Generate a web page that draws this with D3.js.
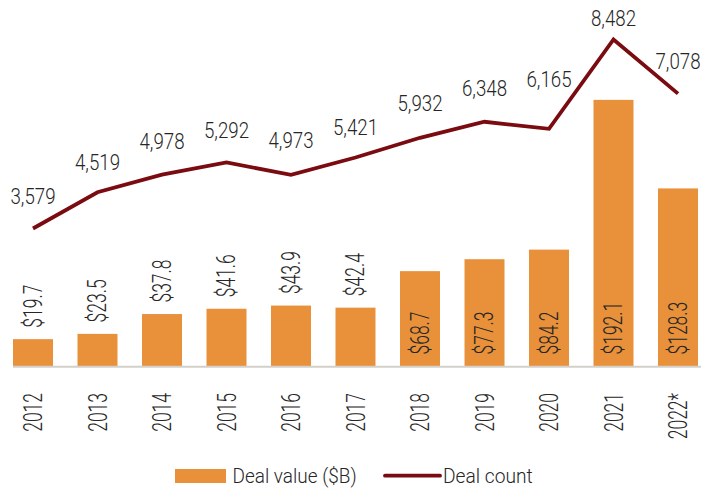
<!DOCTYPE html>
<html>
<head>
<meta charset="utf-8">
<script src="https://cdn.jsdelivr.net/npm/d3@7"></script>
<style>
  html, body { margin: 0; padding: 0; background: #fff; }
  svg text { font-family: Roboto, "Liberation Sans", sans-serif; font-weight: 300; fill: #262626; }
</style>
</head>
<body>
<svg id="chart"></svg>
<script>
const years = ["2012", "2013", "2014", "2015", "2016", "2017", "2018", "2019", "2020", "2021", "2022*"];
const dealValue = [19.7, 23.5, 37.8, 41.6, 43.9, 42.4, 68.7, 77.3, 84.2, 192.1, 128.3];
const dealCount = [3579, 4519, 4978, 5292, 4973, 5421, 5932, 6348, 6165, 8482, 7078];

// how far above each point its count label sits (px), as placed in the original
const countLabelLift = [25, 22, 26, 24, 27, 22, 27, 26, 42, 13, 25];

const width = 701, height = 489;
const baseY = 366.5, topY = 19.5;
const orange = "#e8913a", maroon = "#7a0b10";

const svg = d3.select("#chart")
    .attr("width", width)
    .attr("height", height);

const x = d3.scaleBand()
    .domain(years)
    .range([0.75, 710.25])
    .paddingInner(0.38)
    .paddingOuter(0.19);
const cx = i => x(years[i]) + x.bandwidth() / 2;

const yVal = d3.scaleLinear().domain([0, 250]).range([baseY, topY]);
const yCnt = d3.scaleLinear().domain([0, 9000]).range([baseY, topY]);

// bars
svg.append("g").selectAll("rect")
    .data(dealValue)
  .enter().append("rect")
    .attr("x", (d, i) => x(years[i]))
    .attr("y", d => yVal(d))
    .attr("width", x.bandwidth())
    .attr("height", d => baseY - yVal(d))
    .attr("fill", orange);

// baseline
svg.append("line")
    .attr("x1", 13).attr("x2", 701)
    .attr("y1", baseY + 0.3).attr("y2", baseY + 0.3)
    .attr("stroke", "#d2d0c9")
    .attr("stroke-width", 2);

// bar value labels (rotated); small bars get label above, big ones inside
svg.append("g").selectAll("text")
    .data(dealValue)
  .enter().append("text")
    .attr("transform", (d, i) => {
      const y0 = i < 6 ? yVal(d) - 11.5 : baseY - 12;
      return "translate(" + (cx(i) + 8.5) + "," + y0 + ") rotate(-90) scale(0.7,1)";
    })
    .attr("text-anchor", "start")
    .style("font-size", "25px")
    .text(d => "$" + d.toFixed(1));

// count line
const line = d3.line()
    .x((d, i) => cx(i))
    .y(d => yCnt(d));

svg.append("path")
    .datum(dealCount)
    .attr("d", line)
    .attr("fill", "none")
    .attr("stroke", maroon)
    .attr("stroke-width", 3.8)
    .attr("stroke-linejoin", "miter");

svg.append("g").selectAll("text")
    .data(dealCount)
  .enter().append("text")
    .attr("transform", (d, i) => "translate(" + cx(i) + "," + (yCnt(d) - countLabelLift[i]) + ") scale(0.85,1)")
    .attr("text-anchor", "middle")
    .style("font-size", "22px")
    .text(d => d3.format(",")(d));

// x axis labels
svg.append("g").selectAll("text")
    .data(years)
  .enter().append("text")
    .attr("transform", (d, i) => "translate(" + (cx(i) + 9) + ",393) rotate(-90) scale(0.7,1)")
    .attr("text-anchor", "end")
    .style("font-size", "25px")
    .text(d => d);

// legend
const legend = svg.append("g");
legend.append("rect")
    .attr("x", 175).attr("y", 469)
    .attr("width", 51).attr("height", 14)
    .attr("fill", orange);
legend.append("text")
    .attr("transform", "translate(232.5,483) scale(0.95,1)")
    .style("font-size", "20px")
    .text("Deal value ($B)");
legend.append("line")
    .attr("x1", 385).attr("x2", 440)
    .attr("y1", 475.7).attr("y2", 475.7)
    .attr("stroke", maroon)
    .attr("stroke-width", 3.8)
    .attr("stroke-linecap", "round");
legend.append("text")
    .attr("transform", "translate(443,483) scale(0.96,1)")
    .style("font-size", "20px")
    .text("Deal count");
</script>
</body>
</html>
